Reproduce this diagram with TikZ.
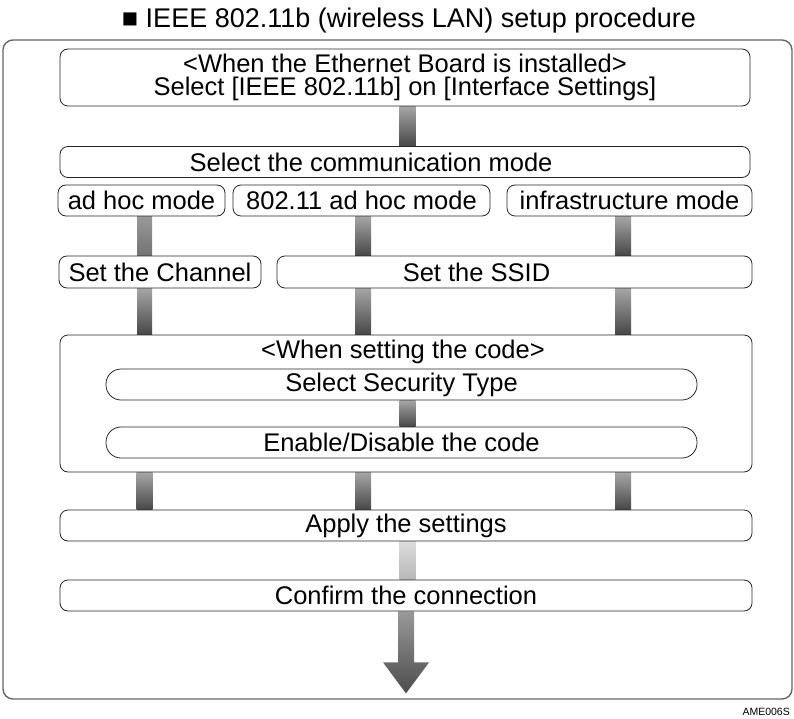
\documentclass[tikz,border=0pt]{standalone}
\usepackage{fontspec}
\setmainfont{Liberation Sans}
\usetikzlibrary{calc,backgrounds}

\begin{document}
\begin{tikzpicture}[x=1pt, y=-1pt,
	box/.style={draw=black!85, line width=0.8pt, rounded corners=8pt, inner sep=0pt,
		minimum height=31pt, font=\fontsize{25.5}{23}\selectfont},
	pill/.style={box, rounded corners=15pt},
	boxtext/.style={inner sep=0pt, font=\fontsize{25.5}{23}\selectfont},
	darkbar/.style={top color=black!35, bottom color=black!72},
	lightbar/.style={top color=black!40, bottom color=black!55},
	palebar/.style={top color=black!14, bottom color=black!28}]
	\useasboundingbox (0,0) rectangle (794,719);

	% 見出しと外枠
	\node[anchor=base, inner sep=0pt, font=\fontsize{27}{30}\selectfont] (title) at (409,28) {■ IEEE 802.11b (wireless LAN) setup procedure};
	\draw[black!60, line width=1.4pt, rounded corners=10pt] (3,40) rectangle (792,699);
	\node[anchor=east, inner sep=0pt, font=\fontsize{10.5}{12}\selectfont] (code id) at (790,712) {AME006S};

	% 箱を置く
	\node[box, minimum width=690pt, minimum height=57pt, align=center] (install) at (405,77.5) {<When the Ethernet Board is installed>\\Select [IEEE 802.11b] on [Interface Settings]};
	\node[box, minimum width=690pt] (mode) at (405,162) {};
	\node[boxtext] at ($(mode.center)+(-34,0)$) {Select the communication mode};
	\node[box, minimum width=167pt] (adhoc) at (141.5,200.5) {ad hoc mode};
	\node[box, minimum width=257pt] (adhoc2) at (361.5,200.5) {802.11 ad hoc mode};
	\node[box, minimum width=245pt] (infra) at (629.5,200.5) {infrastructure mode};
	\node[box, minimum width=202pt, minimum height=32pt] (channel) at (160,272) {Set the Channel};
	\node[box, minimum width=475pt, minimum height=32pt] (ssid) at (514.5,272) {};
	\node[boxtext] at ($(ssid.center)+(-38,0)$) {Set the SSID};
	\node[box, minimum width=692pt, minimum height=137pt] (code) at (406,403.5) {};
	\node[boxtext] at ($(code.north)+(-3,17)$) {<When setting the code>};
	\node[pill, minimum width=591pt] (security) at (401.5,384.5) {Select Security Type};
	\node[pill, minimum width=591pt] (enable) at (401.5,442.5) {Enable/Disable the code};
	\node[box, minimum width=692pt] (apply) at (406,525.5) {Apply the settings};
	\node[box, minimum width=692pt] (confirm) at (406,595.5) {Confirm the connection};

	% 縦の位置
	\coordinate (colA) at (144.5,0);
	\coordinate (colB) at (363,0);
	\coordinate (colC) at (623,0);
	\coordinate (colM) at (407.5,0);

	% 線を引く
	\begin{scope}[on background layer]
		\shade[darkbar] ($(colM |- install.south)+(-8,0)$) rectangle ($(colM |- mode.north)+(8,0)$);
		\shade[lightbar] ($(colA |- adhoc.south)+(-7.5,0)$) rectangle ($(colA |- channel.north)+(7.5,0)$);
		\shade[darkbar] ($(colB |- adhoc2.south)+(-8,0)$) rectangle ($(colB |- ssid.north)+(8,0)$);
		\shade[darkbar] ($(colC |- infra.south)+(-8,0)$) rectangle ($(colC |- ssid.north)+(8,0)$);
		\shade[darkbar] ($(colA |- channel.south)+(-7.5,0)$) rectangle ($(colA |- code.north)+(7.5,0)$);
		\shade[darkbar] ($(colB |- ssid.south)+(-8,0)$) rectangle ($(colB |- code.north)+(8,0)$);
		\shade[darkbar] ($(colC |- ssid.south)+(-8,0)$) rectangle ($(colC |- code.north)+(8,0)$);
		\shade[darkbar] ($(colM |- security.south)+(-8,0)$) rectangle ($(colM |- enable.north)+(8,0)$);
		\foreach \c in {colA,colB,colC}
			\shade[darkbar] ($(\c |- code.south)+(-8,0)$) rectangle ($(\c |- apply.north)+(8,0)$);
		\shade[palebar] ($(colM |- apply.south)+(-8,0)$) rectangle ($(colM |- confirm.north)+(8,0)$);

		% 矢印
		\coordinate (tip) at ($(confirm.south)+(0,82)$);
		\shade[top color=black!40, bottom color=black!70] ($(confirm.south)+(-8,0)$) -- ++(0,51) -- ++(-15,0) -- (tip) -- ($(tip)+(23,-31)$) -- ++(-15,0) -- ($(confirm.south)+(8,0)$) -- cycle;
	\end{scope}
\end{tikzpicture}
\end{document}
